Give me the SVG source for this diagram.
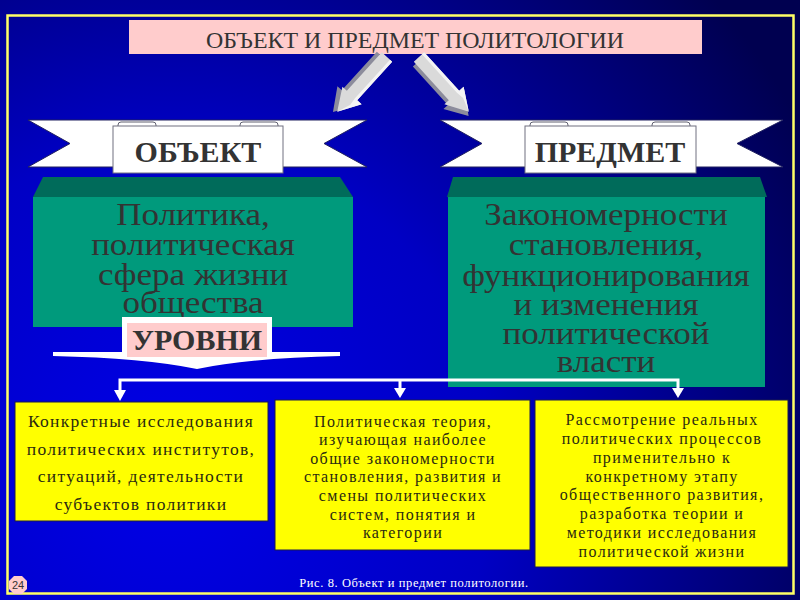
<svg xmlns="http://www.w3.org/2000/svg" width="800" height="600" viewBox="0 0 800 600">
<defs>
<radialGradient id="bg" cx="170" cy="470" r="720" gradientUnits="userSpaceOnUse">
<stop offset="0" stop-color="#0000E8"/>
<stop offset="0.45" stop-color="#0000C4"/>
<stop offset="1" stop-color="#000050"/>
</radialGradient>
<g id="arrow3d">
<polygon points="3,-5 55,-5 55,-11 77,3 55,17 55,11 3,11" fill="#8C8C9C"/>
<polygon points="0,-7 52,-7 52,-13 74,0 52,13 52,7 0,7" fill="#DADADA"/>
<polygon points="0,-7 52,-7 52,-13 74,0 60,-5 52,-4 0,-4" fill="#F4F4F4"/>
</g>
</defs>
<style>
.serif{font-family:"Liberation Serif","Times New Roman",serif}
.big{font-size:31px;fill:#333333;text-anchor:middle}
.lbl{font-size:30px;font-weight:bold;fill:#333333;text-anchor:middle}
.yt{font-size:17.5px;fill:#2a2a10;text-anchor:middle;letter-spacing:1.3px}
.ys{font-size:16px;fill:#2a2a10;text-anchor:middle;letter-spacing:1.4px}
.ybox{fill:#FFFF00;stroke:#1a1a50;stroke-width:1}
.band{fill:#FFFFFF;stroke:#202060;stroke-width:1}
.tab{fill:#FFFFFF;stroke:#606070;stroke-width:1}
.conn{stroke:#FFFFFF;stroke-width:3;fill:none}
.head{fill:#FFFFFF}
</style>
<rect width="800" height="600" fill="url(#bg)"/>
<rect x="7.5" y="15.5" width="786" height="578" fill="none" stroke="#FFFF66" stroke-width="2.5"/>

<g id="title">
<rect x="129" y="20" width="573" height="34" fill="#FFCCCC"/>
<text class="serif" x="415" y="48" font-size="23" fill="#333333" text-anchor="middle" textLength="418" lengthAdjust="spacingAndGlyphs">ОБЪЕКТ И ПРЕДМЕТ ПОЛИТОЛОГИИ</text>
</g>

<g id="arrows">
<use href="#arrow3d" transform="translate(387,57) rotate(132.3)"/>
<use href="#arrow3d" transform="translate(419,57) rotate(47.7)"/>
</g>

<g id="ribbon-object">
<polygon class="band" points="28,120 367,120 324,143.5 367,167 28,167 70,143.5"/>
<rect class="tab" x="118" y="122" width="38" height="8" rx="3"/>
<rect class="tab" x="240" y="122" width="38" height="8" rx="3"/>
<rect x="113" y="126" width="170" height="47" fill="#FFFFFF" stroke="#707080" stroke-width="1"/>
<text class="serif lbl" x="198" y="162">ОБЪЕКТ</text>
</g>

<g id="ribbon-subject">
<polygon class="band" points="440,120 783,120 737,143.5 783,167 440,167 482,143.5"/>
<rect class="tab" x="530" y="122" width="38" height="8" rx="3"/>
<rect class="tab" x="652" y="122" width="38" height="8" rx="3"/>
<rect x="525" y="126" width="171" height="47" fill="#FFFFFF" stroke="#707080" stroke-width="1"/>
<text class="serif lbl" x="610" y="162" font-size="31">ПРЕДМЕТ</text>
</g>

<g id="block-object">
<polygon points="43,177 340,177 353,197 33,197" fill="#006B5A"/>
<rect x="33" y="197" width="320" height="130" fill="#009A7C"/>
<g transform="translate(193,0) scale(1.13,1)">
<text class="serif big" x="0" y="225">Политика,</text>
<text class="serif big" x="0" y="255">политическая</text>
<text class="serif big" x="0" y="285">сфера жизни</text>
<text class="serif big" x="0" y="313">общества</text>
</g>
</g>

<g id="block-subject">
<polygon points="453,177 760,177 767,197 447,197" fill="#006B5A"/>
<rect x="448" y="197" width="317" height="190" fill="#009A7C"/>
<g transform="translate(606,0) scale(1.13,1)">
<text class="serif big" x="0" y="225">Закономерности</text>
<text class="serif big" x="0" y="255">становления,</text>
<text class="serif big" x="0" y="286">функционирования</text>
<text class="serif big" x="0" y="315">и изменения</text>
<text class="serif big" x="0" y="344">политической</text>
<text class="serif big" x="0" y="372">власти</text>
</g>
</g>

<g id="levels">
<path d="M53,352 L340,352 L340,356 Q250,358 197,369 Q144,358 53,356 Z" fill="#FFFFFF"/>
<rect x="122" y="317" width="150" height="42" fill="#FFFFFF"/>
<rect x="127" y="323" width="140" height="34" fill="#FFCCCC"/>
<text class="serif lbl" x="197" y="350" font-size="27">УРОВНИ</text>
</g>

<g id="connectors">
<polyline class="conn" points="120,392 120,380 678,380 678,389"/>
<line class="conn" x1="400" y1="380" x2="400" y2="389"/>
<polygon class="head" points="114,390 126,390 120,401"/>
<polygon class="head" points="394,388 406,388 400,398"/>
<polygon class="head" points="672,388 684,388 678,398"/>
</g>

<g id="box-empirical">
<rect class="ybox" x="15" y="402" width="253" height="119"/>
<text class="serif yt" x="141" y="427">Конкретные исследования</text>
<text class="serif yt" x="141" y="455">политических институтов,</text>
<text class="serif yt" x="141" y="482">ситуаций, деятельности</text>
<text class="serif yt" x="141" y="510">субъектов политики</text>
</g>

<g id="box-theory">
<rect class="ybox" x="275" y="400" width="255" height="150"/>
<text class="serif ys" x="403" y="427">Политическая теория,</text>
<text class="serif ys" x="403" y="445">изучающая наиболее</text>
<text class="serif ys" x="403" y="464">общие закономерности</text>
<text class="serif ys" x="403" y="482">становления, развития и</text>
<text class="serif ys" x="403" y="501">смены политических</text>
<text class="serif ys" x="403" y="520">систем, понятия и</text>
<text class="serif ys" x="403" y="538">категории</text>
</g>

<g id="box-applied">
<rect class="ybox" x="535" y="400" width="253" height="167"/>
<text class="serif ys" x="662" y="425">Рассмотрение реальных</text>
<text class="serif ys" x="662" y="444">политических процессов</text>
<text class="serif ys" x="662" y="463">применительно к</text>
<text class="serif ys" x="662" y="482">конкретному этапу</text>
<text class="serif ys" x="662" y="500">общественного развития,</text>
<text class="serif ys" x="662" y="519">разработка теории и</text>
<text class="serif ys" x="662" y="538">методики исследования</text>
<text class="serif ys" x="662" y="557">политической жизни</text>
</g>

<g id="footer">
<polygon points="14,576 22,576 27,581 27,589 22,594 14,594 9,589 9,581" fill="#FFCCCC"/>
<text x="18" y="589" font-family="Liberation Sans, Arial, sans-serif" font-size="11" fill="#333333" text-anchor="middle">24</text>
<text class="serif" x="414" y="587" font-size="12.5" fill="#FFFFFF" text-anchor="middle" letter-spacing="0.6">Рис. 8. Объект и предмет политологии.</text>
</g>
</svg>
